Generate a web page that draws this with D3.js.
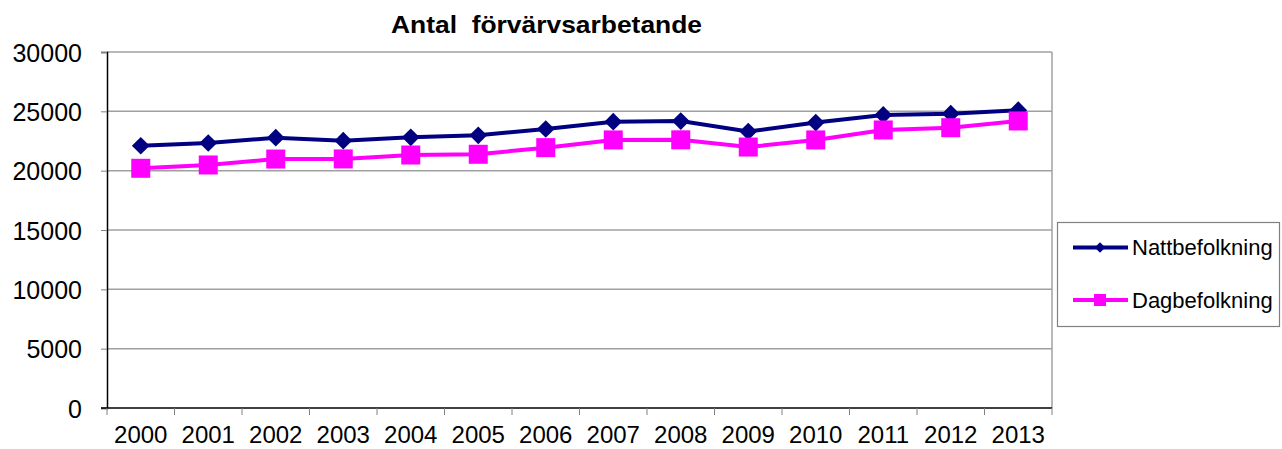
<!DOCTYPE html>
<html>
<head>
<meta charset="utf-8">
<script src="https://cdn.jsdelivr.net/npm/d3@7"></script>
<style>
body { margin: 0; background: #fff; }
text { font-family: "Liberation Sans", Arial, sans-serif; }
</style>
</head>
<body>
<script>
// data
var years = ["2000","2001","2002","2003","2004","2005","2006","2007","2008","2009","2010","2011","2012","2013"];
var natt = [22100, 22330, 22780, 22530, 22810, 22980, 23510, 24130, 24180, 23300, 24050, 24700, 24800, 25100];
var dag = [20200, 20480, 20980, 20990, 21320, 21380, 21940, 22590, 22600, 21990, 22590, 23430, 23620, 24190];
var yTicks = [0, 5000, 10000, 15000, 20000, 25000, 30000];
var seriesNames = ["Nattbefolkning", "Dagbefolkning"];
var colors = ["#000080", "#ff00ff"];

var width = 1282, height = 449;
var plot = {left: 107, right: 1052, top: 52, bottom: 408};

var svg = d3.select("body").append("svg")
  .attr("width", width)
  .attr("height", height);

var x = d3.scaleBand()
  .domain(years)
  .range([plot.left, plot.right]);
var y = d3.scaleLinear()
  .domain([0, 30000])
  .range([plot.bottom, plot.top]);

// gridlines
svg.append("g").selectAll("line")
  .data(yTicks.filter(function(d){ return d > 0; }))
  .enter().append("line")
  .attr("x1", plot.left).attr("x2", plot.right)
  .attr("y1", function(d){ return y(d); })
  .attr("y2", function(d){ return y(d); })
  .attr("stroke", "#a0a0a0")
  .attr("stroke-width", 1.5);

// right border of plot area
svg.append("line")
  .attr("x1", plot.right).attr("x2", plot.right)
  .attr("y1", plot.top).attr("y2", plot.bottom)
  .attr("stroke", "#a0a0a0").attr("stroke-width", 1.5);

// y axis
var yAxis = svg.append("g")
  .attr("transform", "translate(" + plot.left + ",0)")
  .call(d3.axisLeft(y).tickValues(yTicks).tickSize(6).tickPadding(19).tickFormat(d3.format("d")));
yAxis.select(".domain").attr("stroke", "#000").attr("stroke-width", 1.5);
yAxis.selectAll(".tick line").attr("stroke", "#808080");
yAxis.selectAll("text")
  .style("font-family", "Liberation Sans, Arial, sans-serif")
  .style("font-size", "25px")
  .attr("dy", "0.36em")
  .attr("fill", "#000");

// x axis, ticks on band edges
var xAxis = svg.append("g")
  .attr("transform", "translate(0," + plot.bottom + ")")
  .call(d3.axisBottom(x).tickSize(0).tickPadding(0));
xAxis.select(".domain").remove();
xAxis.append("line")
  .attr("x1", plot.left - 6).attr("x2", plot.right)
  .attr("stroke", "#000").attr("stroke-width", 1.5);
xAxis.selectAll(".tick text")
  .style("font-family", "Liberation Sans, Arial, sans-serif")
  .style("font-size", "24px")
  .attr("y", 35).attr("dy", 0)
  .attr("fill", "#000");
xAxis.selectAll(".edge")
  .data(years)
  .enter().append("line")
  .attr("x1", function(d, i){ return plot.left + x.step() * (i + 1); })
  .attr("x2", function(d, i){ return plot.left + x.step() * (i + 1); })
  .attr("y1", 0).attr("y2", 7)
  .attr("stroke", "#808080");
xAxis.append("line")
  .attr("x1", plot.left).attr("x2", plot.left)
  .attr("y1", 0).attr("y2", 7).attr("stroke", "#808080");

// title
svg.append("text")
  .attr("x", 391).attr("y", 33)
  .attr("textLength", 311)
  .attr("lengthAdjust", "spacingAndGlyphs")
  .style("font-size", "24px")
  .style("font-weight", "bold")
  .style("white-space", "pre")
  .text("Antal  förvärvsarbetande");

var line = d3.line()
  .x(function(d, i){ return x(years[i]) + x.bandwidth() / 2; })
  .y(function(d){ return y(d); });

var diamond = d3.symbol().type(d3.symbolDiamond2).size(200);

function drawSeries(vals, color, kind) {
  svg.append("path")
    .datum(vals)
    .attr("d", line)
    .attr("fill", "none")
    .attr("stroke", color)
    .attr("stroke-width", 4);
  var g = svg.append("g").selectAll("g")
    .data(vals).enter().append("g")
    .attr("transform", function(d, i){
      return "translate(" + (x(years[i]) + x.bandwidth() / 2) + "," + y(d) + ")";
    });
  if (kind === "diamond") {
    g.append("path").attr("d", diamond).attr("fill", color);
  } else {
    g.append("rect").attr("x", -9.5).attr("y", -9.5)
      .attr("width", 19).attr("height", 19).attr("fill", color);
  }
}
drawSeries(natt, colors[0], "diamond");
drawSeries(dag, colors[1], "square");

// legend
var legend = svg.append("g");
legend.append("rect")
  .attr("x", 1057.5).attr("y", 222.5)
  .attr("width", 222).attr("height", 104)
  .attr("fill", "#fff").attr("stroke", "#808080").attr("stroke-width", 1.2);
seriesNames.forEach(function(name, i) {
  var ly = 247.5 + i * 52.5;
  legend.append("line")
    .attr("x1", 1073).attr("x2", 1128)
    .attr("y1", ly).attr("y2", ly)
    .attr("stroke", colors[i]).attr("stroke-width", 4);
  if (i === 0) {
    legend.append("path")
      .attr("d", d3.symbol().type(d3.symbolDiamond2).size(70))
      .attr("transform", "translate(1100," + ly + ")")
      .attr("fill", colors[i]);
  } else {
    legend.append("rect")
      .attr("x", 1094).attr("y", ly - 6)
      .attr("width", 12).attr("height", 12)
      .attr("fill", colors[i]);
  }
  legend.append("text")
    .attr("x", 1132).attr("y", ly + 7.5)
    .style("font-size", "22px")
    .text(name);
});
</script>
</body>
</html>
